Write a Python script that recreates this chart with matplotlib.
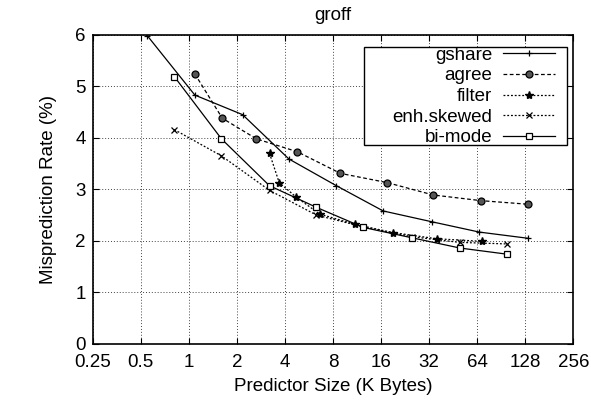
import matplotlib
matplotlib.use("Agg")
import matplotlib.pyplot as plt
from matplotlib.patches import Rectangle
from matplotlib.ticker import FixedLocator, FixedFormatter, NullLocator

plt.rcParams['font.family'] = ['Liberation Sans', 'DejaVu Sans']

# values
gshare_x = [0.55, 1.09, 2.17, 4.23, 8.4, 16.5, 33.3, 66, 133]
gshare_y = [5.98, 4.83, 4.45, 3.59, 3.07, 2.58, 2.37, 2.17, 2.05]

agree_x = [1.09, 1.62, 2.65, 4.78, 8.9, 17.5, 34, 67.8, 134]
agree_y = [5.24, 4.38, 3.98, 3.73, 3.31, 3.13, 2.89, 2.78, 2.71]

filter_x = [3.2, 3.68, 4.7, 6.6, 11, 19, 35.8, 68.5]
filter_y = [3.70, 3.13, 2.85, 2.52, 2.32, 2.16, 2.04, 1.99]

skewed_x = [0.81, 1.6, 3.2, 6.3, 12.4, 24.9, 49.6, 98]
skewed_y = [4.16, 3.65, 2.98, 2.50, 2.27, 2.08, 1.97, 1.94]

bimode_x = [0.81, 1.6, 3.2, 6.3, 12.4, 24.9, 50, 99]
bimode_y = [5.19, 3.98, 3.07, 2.65, 2.26, 2.06, 1.86, 1.74]

xticks = [0.25, 0.5, 1, 2, 4, 8, 16, 32, 64, 128, 256]
xlabels = ["0.25", "0.5", "1", "2", "4", "8", "16", "32", "64", "128", "256"]

fig = plt.figure(figsize=(5.91, 4.05), dpi=100)
ax = fig.add_axes([0.157, 0.151, 0.813, 0.763])

ax.plot(gshare_x, gshare_y, color='black', lw=0.9, ls='-', marker='+', ms=5, mew=0.9, label='gshare')
ax.plot(agree_x, agree_y, color='black', lw=0.9, ls=(0, (3, 2)), marker='o', ms=5,
        mfc='#555555', mec='black', mew=0.9, label='agree')
ax.plot(filter_x, filter_y, color='black', lw=0.9, ls=(0, (1.5, 1.5)), marker='*', ms=6,
        mfc='black', mec='black', label='filter')
ax.plot(skewed_x, skewed_y, color='black', lw=0.9, ls=(0, (1.5, 1.5)), marker='x', ms=5, mew=0.9,
        label='enh.skewed')
ax.plot(bimode_x, bimode_y, color='black', lw=0.9, ls='-', marker='s', ms=5,
        mfc='white', mec='black', mew=0.9, label='bi-mode')

ax.set_xscale('log', base=2)
ax.set_xlim(0.25, 256)
ax.set_ylim(0, 6)
ax.xaxis.set_major_locator(FixedLocator(xticks))
ax.xaxis.set_major_formatter(FixedFormatter(xlabels))
ax.xaxis.set_minor_locator(NullLocator())
ax.set_yticks([0, 1, 2, 3, 4, 5, 6])

ax.grid(True, color='#444444', ls=(0, (1, 2)), lw=0.7)
ax.tick_params(direction='in', top=True, right=True, length=4, labelsize=13.5, pad=5)
ax.tick_params(axis='x', pad=7)
for s in ax.spines.values():
    s.set_linewidth(1.2)

ax.set_title('groff', fontsize=13.5, pad=11)
ax.set_xlabel('Predictor Size (K Bytes)', fontsize=13.5, labelpad=5)
ax.set_ylabel('Misprediction Rate (%)', fontsize=13.5, labelpad=13)

# gnuplot-style key: text first, sample after, box drawn separately
box = Rectangle((0.565, 0.644), 0.4225, 0.318, transform=ax.transAxes, facecolor='white',
                edgecolor='black', lw=1.0, zorder=4)
ax.add_patch(box)
leg = ax.legend(loc='upper right', bbox_to_anchor=(0.962, 0.962), markerfirst=False, fontsize=13.5,
                frameon=False, handlelength=2.8, borderpad=0, labelspacing=0.19,
                handletextpad=0.55, borderaxespad=0)
leg.set_zorder(5)
for t in leg.get_texts():
    t.set_ha('right')
leg._legend_box.align = 'right'

fig.savefig('out.png', dpi=100)
